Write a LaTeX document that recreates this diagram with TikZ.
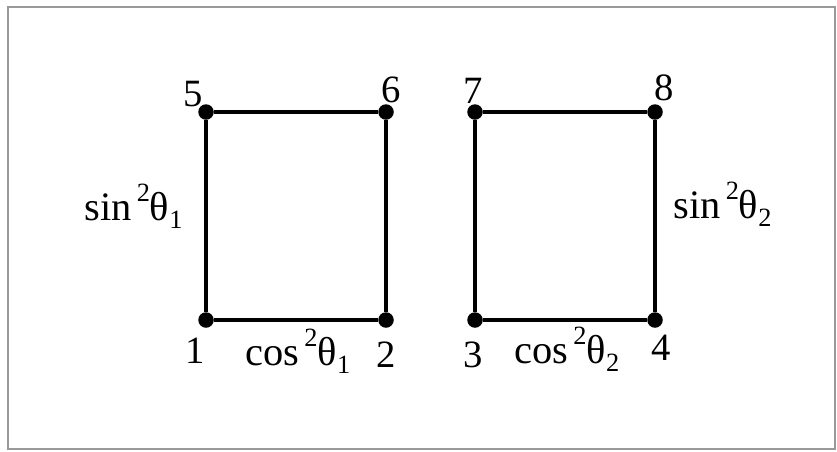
\documentclass[tikz,border=0pt]{standalone}
\usepackage{fontspec}
\setmainfont{Liberation Serif}
\newcommand{\supr}[1]{\raisebox{0.45em}{\fontsize{15}{15}\selectfont #1}}
\newcommand{\subr}[1]{\raisebox{-0.22em}{\fontsize{15}{15}\selectfont #1}}

\begin{document}
\begin{tikzpicture}[x=0.02cm,y=-0.02cm,
  vertex/.style={circle,fill=black,inner sep=0pt,minimum size=0.31cm},
  edge/.style={line width=2pt},
  num/.style={anchor=base,inner sep=0pt,font=\fontsize{22}{26}\selectfont},
  lbl/.style={anchor=base west,inner sep=0pt,font=\fontsize{23}{27}\selectfont}]
\useasboundingbox (0,0) rectangle (837,451);
% frame
\draw[gray!80,line width=1.1pt] (8,7) rectangle (835,449);

% left square
\node[vertex] (p5) at (206,112) {};
\node[vertex] (p6) at (386,112) {};
\node[vertex] (p1) at (206,320) {};
\node[vertex] (p2) at (386,320) {};
\draw[edge] (p5) -- (p6) -- (p2) -- (p1) -- (p5);

% right square
\node[vertex] (p7) at (475,112) {};
\node[vertex] (p8) at (655,112) {};
\node[vertex] (p3) at (475,320) {};
\node[vertex] (p4) at (655,320) {};
\draw[edge] (p7) -- (p8) -- (p4) -- (p3) -- (p7);

% corner numbers
\node[num] (n5) at (193,106) {5};
\node[num] (n6) at (391,102) {6};
\node[num] (n7) at (473,103) {7};
\node[num] (n8) at (664,100) {8};
\node[num] (n1) at (195,363) {1};
\node[num] (n2) at (386,367) {2};
\node[num] (n3) at (473,367) {3};
\node[num] (n4) at (661,360) {4};

% side weights
\node[lbl] (s1) at (84,220) {sin\kern3pt\supr{2}θ\subr{1}};
\node[lbl] (c1) at (245,365) {cos\kern3pt\supr{2}θ\subr{1}};
\node[lbl] (s2) at (673,218) {sin\kern3pt\supr{2}θ\subr{2}};
\node[lbl] (c2) at (514,363) {cos\kern3pt\supr{2}θ\subr{2}};
\end{tikzpicture}
\end{document}
